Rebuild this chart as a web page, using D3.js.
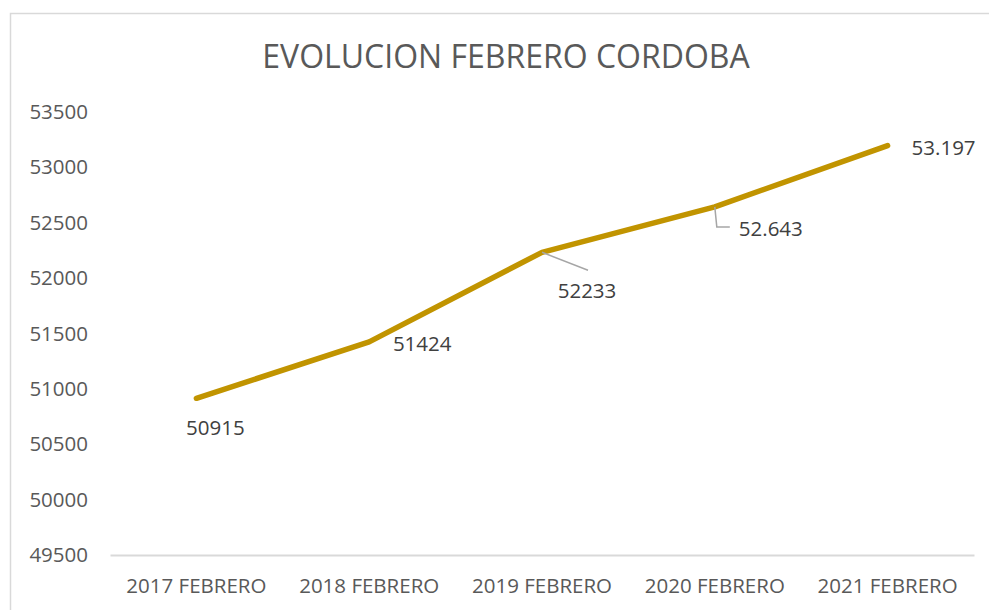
<!DOCTYPE html>
<html>
<head>
<meta charset="utf-8">
<script src="https://cdn.jsdelivr.net/npm/d3@7"></script>
<style>
  html, body { margin: 0; padding: 0; background: #fff; }
  svg text { font-family: "Open Sans", "Noto Sans", sans-serif; fill: #595959; }
</style>
</head>
<body>
<div id="chart"></div>
<script>
const categories = ["2017 FEBRERO", "2018 FEBRERO", "2019 FEBRERO", "2020 FEBRERO", "2021 FEBRERO"];
const values = [50915, 51424, 52233, 52643, 53197];
const labels = ["50915", "51424", "52233", "52.643", "53.197"];
const yTicks = [49500, 50000, 50500, 51000, 51500, 52000, 52500, 53000, 53500];

const width = 989, height = 610;
const margin = { top: 112, right: 15, bottom: 55, left: 110 };

const svg = d3.select("#chart")
    .append("svg")
    .attr("width", width)
    .attr("height", height);

// chart border
svg.append("rect")
    .attr("x", 10.5).attr("y", 13.5)
    .attr("width", 1000).attr("height", 700)
    .attr("fill", "none")
    .attr("stroke", "#d9d9d9")
    .attr("stroke-width", 1.5);

svg.append("text")
    .attr("x", 506).attr("y", 68)
    .attr("text-anchor", "middle")
    .style("font-size", "32px")
    .text("EVOLUCION FEBRERO CORDOBA");

const x = d3.scaleBand()
    .domain(categories)
    .range([margin.left, width - margin.right]);

const y = d3.scaleLinear()
    .domain([49500, 53500])
    .range([height - margin.bottom, margin.top]);

// y axis labels (no line)
const yAxis = svg.append("g")
    .attr("transform", "translate(88,0)")
    .call(d3.axisLeft(y).tickValues(yTicks).tickSize(0).tickPadding(0).tickFormat(d3.format("d")));
yAxis.select(".domain").remove();
yAxis.selectAll("text").style("font-size", "20.5px").attr("fill", "#595959");

// x axis
const xAxis = svg.append("g")
    .attr("transform", `translate(0,${y(49500)})`)
    .call(d3.axisBottom(x).tickSize(0).tickPadding(23));
xAxis.select(".domain").attr("stroke", "#d9d9d9").attr("stroke-width", 2);
xAxis.selectAll("text").style("font-size", "20.5px").attr("fill", "#595959");

const cx = (d, i) => x(categories[i]) + x.bandwidth() / 2;

const line = d3.line()
    .x(cx)
    .y(d => y(d));

svg.append("path")
    .datum(values)
    .attr("fill", "none")
    .attr("stroke", "#c19400")
    .attr("stroke-width", 5.5)
    .attr("stroke-linecap", "round")
    .attr("stroke-linejoin", "round")
    .attr("d", line);

// data label offsets from each point
const labelOffsets = [[19, 29], [53, 1], [45, 38], [56, 21], [56, 1]];

// leader lines for labels pulled away from their points
const leaders = [
    null, null,
    [[0, 0], [46, 18]],
    [[0, 0], [2, 20], [15, 20]],
    null
];
values.forEach((v, i) => {
    if (!leaders[i]) return;
    const px = cx(v, i), py = y(v);
    svg.append("path")
        .attr("fill", "none")
        .attr("stroke", "#a6a6a6")
        .attr("stroke-width", 1.5)
        .attr("d", d3.line()(leaders[i].map(p => [px + p[0], py + p[1]])));
});

svg.selectAll(".dlabel")
    .data(values)
    .enter()
    .append("text")
    .attr("class", "dlabel")
    .attr("x", (d, i) => cx(d, i) + labelOffsets[i][0])
    .attr("y", (d, i) => y(d) + labelOffsets[i][1])
    .attr("text-anchor", "middle")
    .attr("dominant-baseline", "central")
    .style("font-size", "20.5px")
    .style("fill", "#404040")
    .text((d, i) => labels[i]);
</script>
</body>
</html>
